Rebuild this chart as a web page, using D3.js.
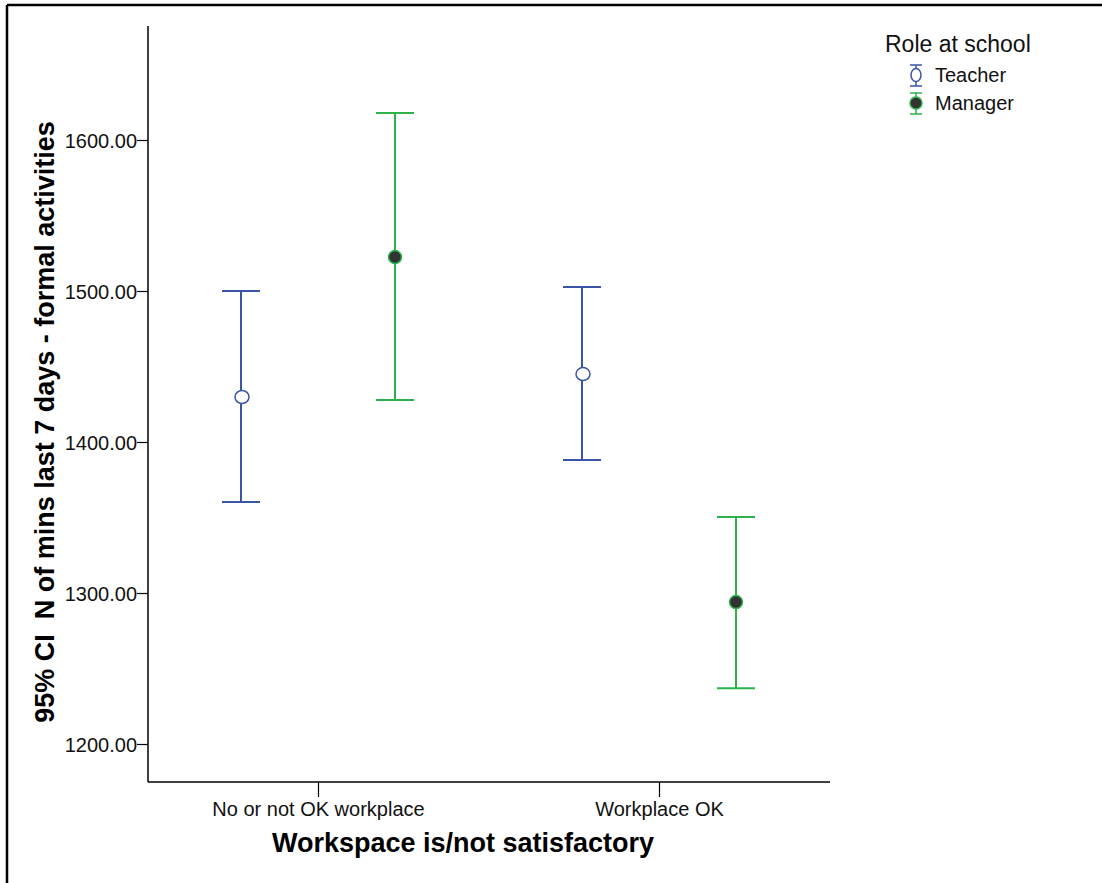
<!DOCTYPE html>
<html>
<head>
<meta charset="utf-8">
<script src="https://cdn.jsdelivr.net/npm/d3@7"></script>
<style>
  html, body { margin: 0; padding: 0; background: #fff; }
  svg { display: block; font-family: Arial, "Liberation Sans", sans-serif; }
</style>
</head>
<body>
<svg id="chart" width="1102" height="883"></svg>
<script>
// ---- Data ----
const categories = ["No or not OK workplace", "Workplace OK"];
const roles = ["Teacher", "Manager"];
const teacherMean  = [1429.8, 1445.0];
const teacherLower = [1360.3, 1388.0];
const teacherUpper = [1500.0, 1502.6];
const managerMean  = [1522.5, 1294.0];
const managerLower = [1427.8, 1237.0];
const managerUpper = [1617.9, 1350.3];
const yTicks = [1200, 1300, 1400, 1500, 1600];

const colors = { Teacher: "#3a55a8", Manager: "#2db24a" };
const FONT = "Arial, 'Liberation Sans', sans-serif";

const svg = d3.select("#chart");

// frame (cropped: only top and left visible)
svg.append("line").attr("x1", 7).attr("x2", 1102).attr("y1", 5).attr("y2", 5)
  .attr("stroke", "#000").attr("stroke-width", 2.5);
svg.append("line").attr("x1", 7).attr("x2", 7).attr("y1", 5).attr("y2", 883)
  .attr("stroke", "#000").attr("stroke-width", 2.5);

const plot = { left: 148, right: 830, top: 26, bottom: 782 };

const y = d3.scaleLinear().domain([1200, 1600]).range([744, 140]);
const x = d3.scalePoint().domain(categories).range([318, 659]);
const offset = d3.scalePoint().domain(roles).range([-77, 77]);

// axes lines
svg.append("line").attr("x1", plot.left).attr("x2", plot.left)
  .attr("y1", plot.top).attr("y2", plot.bottom).attr("stroke", "#000").attr("stroke-width", 1.5);
svg.append("line").attr("x1", plot.left).attr("x2", plot.right)
  .attr("y1", plot.bottom).attr("y2", plot.bottom).attr("stroke", "#000").attr("stroke-width", 1.5);

// y axis
const yAxis = d3.axisLeft(y).tickValues(yTicks).tickFormat(d3.format(".2f"))
  .tickSize(11).tickPadding(0);
const gy = svg.append("g").attr("transform", `translate(${plot.left},0)`).call(yAxis)
  .attr("font-size", 20).attr("font-family", FONT);
gy.select(".domain").remove();
gy.selectAll(".tick line").attr("stroke", "#000").attr("stroke-width", 1.2);
gy.selectAll(".tick text").attr("fill", "#111").attr("dy", "0.36em");

// x axis
const xAxis = d3.axisBottom(x).tickSize(15).tickPadding(5);
const gx = svg.append("g").attr("transform", `translate(0,${plot.bottom})`).call(xAxis)
  .attr("font-size", 20).attr("font-family", FONT);
gx.select(".domain").remove();
gx.selectAll(".tick line").attr("stroke", "#000").attr("stroke-width", 1.2);
gx.selectAll(".tick text").attr("fill", "#111");

// axis titles
svg.append("text").attr("x", 463).attr("y", 852).attr("text-anchor", "middle")
  .attr("font-size", 27).attr("font-weight", "bold").attr("fill", "#000")
  .text("Workspace is/not satisfactory");
svg.append("text").attr("transform", "translate(54,422) rotate(-90)")
  .attr("text-anchor", "middle").attr("font-size", 27).attr("font-weight", "bold").attr("fill", "#000")
  .style("white-space", "pre")
  .text("95% CI  N of mins last 7 days - formal activities");

// data rows
const rows = [];
categories.forEach((c, i) => {
  rows.push({ cat: c, role: "Teacher", mean: teacherMean[i], lo: teacherLower[i], hi: teacherUpper[i] });
  rows.push({ cat: c, role: "Manager", mean: managerMean[i], lo: managerLower[i], hi: managerUpper[i] });
});

const capHalf = 19;
const g = svg.append("g");
rows.forEach(d => {
  const cx = x(d.cat) + offset(d.role);
  const col = colors[d.role];
  g.append("line").attr("x1", cx).attr("x2", cx).attr("y1", y(d.hi)).attr("y2", y(d.lo))
    .attr("stroke", col).attr("stroke-width", 2);
  g.append("line").attr("x1", cx - capHalf).attr("x2", cx + capHalf).attr("y1", y(d.hi)).attr("y2", y(d.hi))
    .attr("stroke", col).attr("stroke-width", 2);
  g.append("line").attr("x1", cx - capHalf).attr("x2", cx + capHalf).attr("y1", y(d.lo)).attr("y2", y(d.lo))
    .attr("stroke", col).attr("stroke-width", 2);
  if (d.role === "Teacher") {
    g.append("ellipse").attr("cx", cx + 1).attr("cy", y(d.mean)).attr("rx", 7).attr("ry", 6.5)
      .attr("fill", "#fff").attr("stroke", col).attr("stroke-width", 1.5);
  } else {
    g.append("circle").attr("cx", cx).attr("cy", y(d.mean)).attr("r", 6.5)
      .attr("fill", "#333").attr("stroke", col).attr("stroke-width", 1.5);
  }
});

// legend
svg.append("text").attr("x", 885).attr("y", 52).attr("font-size", 23).attr("fill", "#111")
  .text("Role at school");
roles.forEach((r, i) => {
  const cy = 75 + i * 28;
  const lx = 916;
  const col = colors[r];
  const lg = svg.append("g");
  lg.append("line").attr("x1", lx).attr("x2", lx).attr("y1", cy - 10).attr("y2", cy + 11)
    .attr("stroke", col).attr("stroke-width", 1.5);
  lg.append("line").attr("x1", lx - 6).attr("x2", lx + 6).attr("y1", cy - 10).attr("y2", cy - 10)
    .attr("stroke", col).attr("stroke-width", 1.5);
  lg.append("line").attr("x1", lx - 6).attr("x2", lx + 6).attr("y1", cy + 11).attr("y2", cy + 11)
    .attr("stroke", col).attr("stroke-width", 1.5);
  if (r === "Teacher") {
    lg.append("ellipse").attr("cx", lx).attr("cy", cy).attr("rx", 5).attr("ry", 6.5)
      .attr("fill", "#fff").attr("stroke", col).attr("stroke-width", 1.5);
  } else {
    lg.append("circle").attr("cx", lx).attr("cy", cy).attr("r", 6)
      .attr("fill", "#333").attr("stroke", col).attr("stroke-width", 1.5);
  }
  lg.append("text").attr("x", 935).attr("y", cy + 7).attr("font-size", 20).attr("fill", "#111").text(r);
});
</script>
</body>
</html>
